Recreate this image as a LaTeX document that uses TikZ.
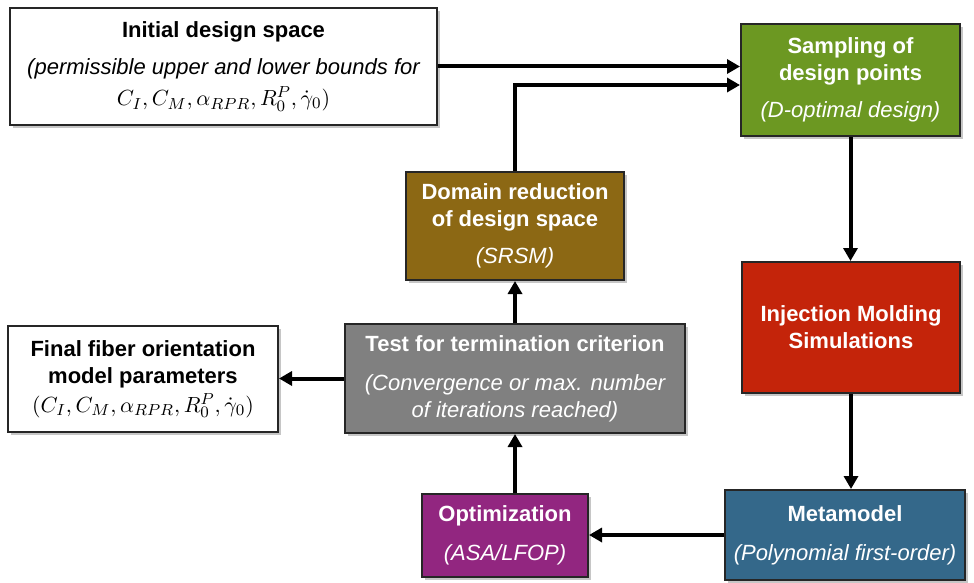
\documentclass[tikz,border=0pt]{standalone}
\usepackage{fontspec}
\setmainfont{Liberation Sans}
\usetikzlibrary{arrows.meta,shadows}
\definecolor{SampClr}{RGB}{108,152,34}
\definecolor{DomClr}{RGB}{140,104,20}
\definecolor{InjClr}{RGB}{196,36,10}
\definecolor{TestClr}{RGB}{128,128,128}
\definecolor{OptClr}{RGB}{146,38,128}
\definecolor{MetaClr}{RGB}{52,104,138}

\begin{document}
\begin{tikzpicture}[x=0.5pt,y=-0.5pt,
  box/.style={draw=black!85,line width=1pt,align=center,inner sep=2pt,
    font=\fontsize{11}{13.5}\selectfont\bfseries,
    drop shadow={shadow xshift=1.5pt,shadow yshift=-1.5pt,opacity=0.45}},
  whitebox/.style={box,fill=white,text=black},
  colbox/.style={box,fill=#1,text=white},
  flow/.style={line width=2pt,-{Triangle[length=6.5pt,width=7pt]}}]
\useasboundingbox (0,0) rectangle (974,583);

% Boxes of the loop
\node[whitebox,minimum width=213.5pt,minimum height=58.5pt] (init) at (223.5,66.5)
  {Initial design space\\[5pt]
   {\mdseries\itshape (permissible upper and lower bounds for}\\[2pt]
   $C_I, C_M, \alpha_{RPR}, R_0^P, \dot{\gamma}_0)$};
\node[colbox=SampClr,minimum width=109.5pt,minimum height=56pt] (samp) at (850.5,80)
  {Sampling of\\design points\\[5pt]{\mdseries\itshape (D-optimal design)}};
\node[colbox=DomClr,minimum width=109pt,minimum height=54pt] (dom) at (515,226)
  {Domain reduction\\of design space\\[5pt]{\mdseries\itshape (SRSM)}};
\node[colbox=InjClr,minimum width=109pt,minimum height=65.5pt] (inj) at (851,327.5)
  {Injection Molding\\Simulations};
\node[colbox=TestClr,minimum width=170pt,minimum height=54.5pt] (test) at (515,378.5)
  {Test for termination criterion\\[6pt]
   {\mdseries\itshape (Convergence or max. number}\\
   {\mdseries\itshape of iterations reached)}};
\node[whitebox,minimum width=135pt,minimum height=53pt] (final) at (143,379)
  {Final fiber orientation\\model parameters\\[1pt]
   $(C_I, C_M, \alpha_{RPR}, R_0^P, \dot{\gamma}_0)$};
\node[colbox=OptClr,minimum width=83pt,minimum height=41.5pt] (opt) at (505,535.5)
  {Optimization\\[6pt]{\mdseries\itshape (ASA/LFOP)}};
\node[colbox=MetaClr,minimum width=120pt,minimum height=45pt] (meta) at (845,535)
  {Metamodel\\[6pt]{\mdseries\itshape (Polynomial first-order)}};

% Connectors
\draw[flow] (init.east) -- (init.east -| samp.west);
\draw[flow] (dom.north) |- ([yshift=-2.5pt]samp.west);
\draw[flow] (samp.south) -- (samp.south |- inj.north);
\draw[flow] (inj.south) -- (inj.south |- meta.north);
\draw[flow] (meta.west) -- (meta.west -| opt.east);
\draw[flow] (test.south |- opt.north) -- (test.south);
\draw[flow] (test.north) -- (dom.south);
\draw[flow] (test.west) -- (test.west -| final.east);
\end{tikzpicture}
\end{document}
